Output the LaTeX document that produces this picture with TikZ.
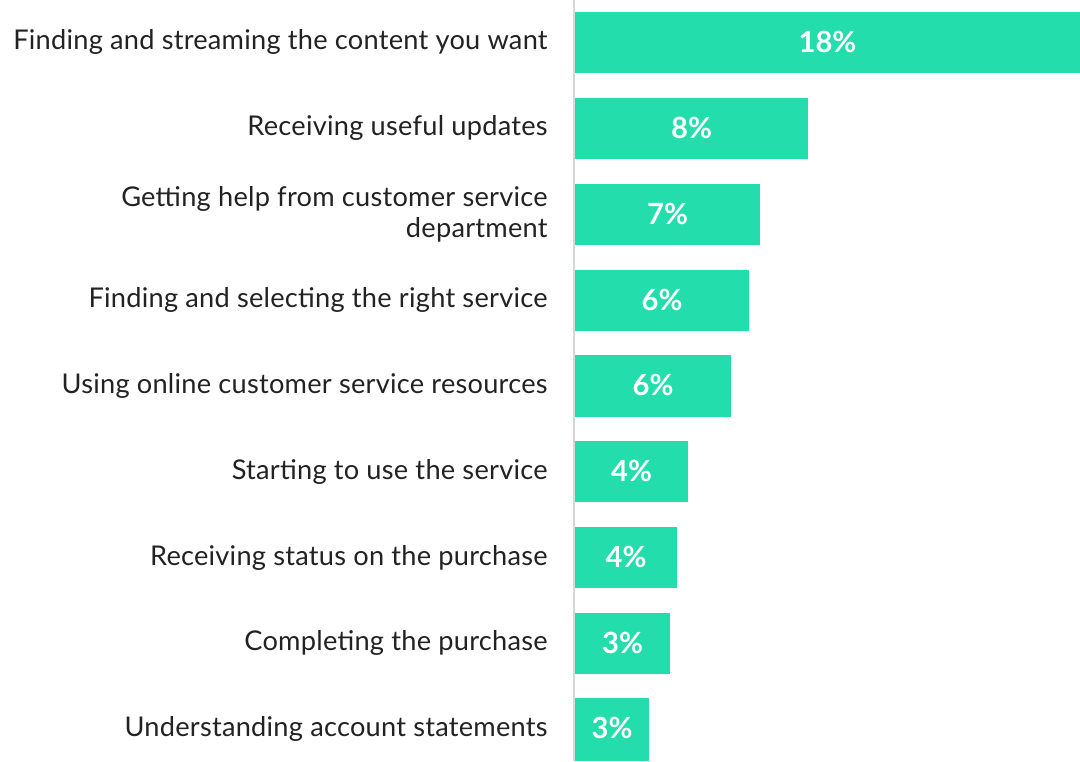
\documentclass[tikz,border=0pt]{standalone}
\usepackage{fontspec}
\setmainfont{Lato}
\usetikzlibrary{positioning}
\definecolor{barfill}{RGB}{35,221,172}
\definecolor{labeltext}{RGB}{34,34,34}
\definecolor{axisgray}{RGB}{215,215,215}
\tikzset{
  bar/.style = {fill = barfill, draw = none},
  item/.style = {anchor = east, align = right, text = labeltext, inner sep = 0pt,
    font = \addfontfeatures{LetterSpace = 0.9}\fontsize{13.6}{15.5}\selectfont},
  pct/.style = {text = white, inner sep = 0pt, font = \fontsize{14.6}{16}\selectfont\bfseries}
}
\begin{document}
\begin{tikzpicture}[x = 0.5pt, y = -0.5pt]
\useasboundingbox (0, 0) rectangle (1080, 761);
\draw[axisgray, line width = 1pt] (574, 0) -- (574, 761);
% bars
\fill[bar] (575, 12) rectangle (1080, 72.7);
\fill[bar] (575, 98) rectangle (808, 159);
\fill[bar] (575, 184) rectangle (760, 245);
\fill[bar] (575, 269.5) rectangle (749, 330.5);
\fill[bar] (575, 355) rectangle (731, 416.5);
\fill[bar] (575, 441) rectangle (688, 502);
\fill[bar] (575, 527) rectangle (677, 588);
\fill[bar] (575, 612.5) rectangle (670, 673.7);
\fill[bar] (575, 698) rectangle (649, 761);
% values
\node[pct] (v1) at (827.5, 42) {18\%};
\node[pct] (v2) at (691.5, 128) {8\%};
\node[pct] (v3) at (667.5, 214) {7\%};
\node[pct] (v4) at (662, 299.5) {6\%};
\node[pct] (v5) at (653, 385.2) {6\%};
\node[pct] (v6) at (631.5, 471) {4\%};
\node[pct] (v7) at (626, 557) {4\%};
\node[pct] (v8) at (622.5, 642.5) {3\%};
\node[pct] (v9) at (612, 728) {3\%};
% categories
\node[item] (c1) at (548, 42) {Finding and streaming the content you want};
\node[item] (c2) at (548, 128) {Receiving useful updates};
\node[item] (c3) at (548, 214) {Getting help from customer service\\department};
\node[item] (c4) at (548, 300) {Finding and selecting the right service};
\node[item] (c5) at (548, 385.5) {Using online customer service resources};
\node[item] (c6) at (548, 471.5) {Starting to use the service};
\node[item] (c7) at (548, 557.5) {Receiving status on the purchase};
\node[item] (c8) at (548, 643) {Completing the purchase};
\node[item] (c9) at (548, 728.5) {Understanding account statements};
\end{tikzpicture}
\end{document}
